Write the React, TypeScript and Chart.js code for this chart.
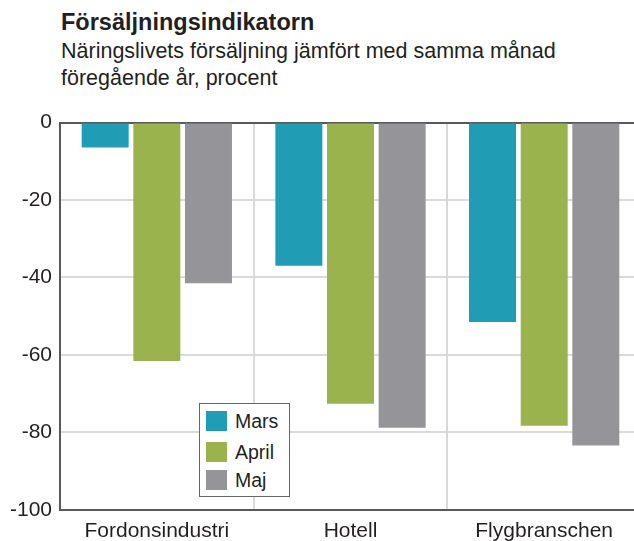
import React, { useEffect, useRef } from "react";
import { Chart, registerables } from "chart.js";

Chart.register(...registerables);

const categories = ["Fordonsindustri", "Hotell", "Flygbranschen"];
const seriesNames = ["Mars", "April", "Maj"];
const mars = [-6.4, -37.0, -51.5];
const april = [-61.6, -72.6, -78.3];
const maj = [-41.5, -78.8, -83.4];
const colors = ["#209cb4", "#9bb34c", "#959599"];
const yTicks = [0, -20, -40, -60, -80, -100];

const FONT = "'Liberation Sans', Arial, Helvetica, sans-serif";
const TEXT = "#231f20";
const DARK = "#58595b";
const LIGHT = "#dadada";

export default function App() {
  const canvasRef = useRef<HTMLCanvasElement | null>(null);

  useEffect(() => {
    document.body.style.margin = "0";
    const canvas = canvasRef.current;
    if (!canvas) return;
    const values = [mars, april, maj];
    const chart = new Chart(canvas, {
      type: "bar",
      data: {
        labels: categories,
        datasets: seriesNames.map((name, i) => ({
          label: name,
          data: values[i],
          backgroundColor: colors[i],
          borderWidth: 0,
          categoryPercentage: 0.8,
          barPercentage: 0.91,
        })),
      },
      options: {
        responsive: false,
        animation: false,
        maintainAspectRatio: false,
        layout: { padding: { left: 10, right: 0, top: 0, bottom: 0 } },
        plugins: {
          legend: { display: false },
          tooltip: { enabled: false },
          title: { display: false },
        },
        scales: {
          x: {
            offset: true,
            grid: {
              display: true,
              offset: true,
              color: LIGHT,
              lineWidth: 2,
              drawTicks: false,
            },
            border: { display: true, color: DARK, width: 2 },
            ticks: {
              color: TEXT,
              font: { family: FONT, size: 21 },
              padding: 9,
              maxRotation: 0,
            },
          },
          y: {
            min: -100,
            max: 0,
            afterFit: (scale: any) => {
              scale.width = 50;
            },
            afterBuildTicks: (scale: any) => {
              scale.ticks = yTicks.map((v) => ({ value: v }));
            },
            grid: {
              color: (ctx: any) =>
                ctx.tick && (ctx.tick.value === 0 || ctx.tick.value === -100) ? DARK : LIGHT,
              lineWidth: 2,
              drawTicks: false,
            },
            border: { display: true, color: DARK, width: 2 },
            ticks: {
              color: TEXT,
              font: { family: FONT, size: 21 },
              padding: 8,
              stepSize: 20,
            },
          },
        },
      },
    });
    return () => chart.destroy();
  }, []);

  const legendRowTops = [7, 38, 66];

  return (
    <div
      style={{
        position: "fixed",
        left: 0,
        top: 0,
        width: 634,
        height: 541,
        overflow: "hidden",
        background: "#ffffff",
        fontFamily: FONT,
        color: TEXT,
      }}
    >
      <div
        style={{
          position: "absolute",
          left: 61,
          top: 8,
          fontSize: 23.5,
          lineHeight: "28px",
          fontWeight: "bold",
          whiteSpace: "nowrap",
        }}
      >
        Försäljningsindikatorn
      </div>
      <div
        style={{
          position: "absolute",
          left: 61,
          top: 38,
          fontSize: 21.5,
          lineHeight: "27.4px",
          whiteSpace: "nowrap",
        }}
      >
        Näringslivets försäljning jämfört med samma månad
        <br />
        föregående år, procent
      </div>
      <canvas
        ref={canvasRef}
        width={641}
        height={451}
        style={{ position: "absolute", left: 0, top: 102 }}
      />
      <div
        style={{
          position: "absolute",
          left: 199,
          top: 403,
          width: 89,
          height: 92,
          border: "1px solid #666666",
          background: "#ffffff",
        }}
      >
        {seriesNames.map((name, i) => (
          <div
            key={name}
            style={{
              position: "absolute",
              left: 6,
              top: legendRowTops[i],
              height: 20,
              display: "flex",
              alignItems: "flex-start",
            }}
          >
            <div style={{ width: 21, height: 20, background: colors[i] }} />
            <div
              style={{
                marginLeft: 8,
                fontSize: 19.5,
                lineHeight: "20px",
                whiteSpace: "nowrap",
              }}
            >
              {name}
            </div>
          </div>
        ))}
      </div>
    </div>
  );
}
